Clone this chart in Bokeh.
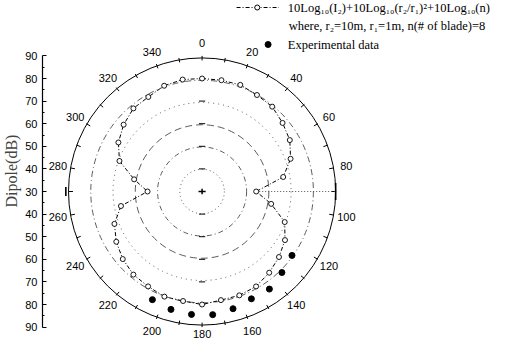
import numpy as np
from bokeh.plotting import figure
from bokeh.models import Range1d, LinearAxis, FixedTicker
from bokeh.core.properties import value
from bokeh.embed import file_html
from bokeh.resources import INLINE

# ---------------- data ----------------
angles_model = [0, 10, 20, 30, 40, 50, 60, 70, 80, 90, 100, 110, 120, 130, 140, 150, 160, 170,
                180, 190, 200, 210, 220, 230, 240, 250, 260, 270, 280, 290, 300, 310, 320, 330, 340, 350]
dipole_model = [80.0, 80.0, 80.2, 79.3, 79.0, 77.2, 75.5, 72.3, 67.0, 54.3, 61.5, 69.5, 73.0, 75.1,
                76.9, 78.5, 78.9, 78.8, 80.0, 79.2, 79.5, 78.5, 78.0, 76.5, 74.5, 71.9, 67.0, 54.5,
                61.0, 69.5, 73.4, 76.0, 78.0, 78.3, 79.8, 80.3]
angles_exp = [125, 135, 145, 155, 165, 175, 185, 195, 205]
dipole_exp = [79.3, 80.7, 82.7, 82.4, 83.7, 84.7, 84.6, 84.0, 82.8]
angle_ticks = list(range(0, 360, 20))
radial_ticks = [30, 40, 50, 60, 70, 80, 90]
legend_texts = ["10Log\u2081\u2080(I\u2082)+10Log\u2081\u2080(r\u2082/r\u2081)\u00b2+10Log\u2081\u2080(n)",
                "where, r\u2082=10m, r\u2081=1m, n(# of blade)=8",
                "Experimental data"]
y_label = "Dipole(dB)"

R0, RMAX = 30, 90

# ---------------- layout ----------------
W, H = 504, 341
LEFT = 35
S = 2.26            # px per dB
CX, CY = 162, 191   # polar centre inside frame (px)
FW = W - LEFT

def polar(vals, angs):
    r = np.asarray(vals, float) - R0
    t = np.radians(np.asarray(angs, float))
    return r * np.sin(t), r * np.cos(t)

def px(ix, iy):
    # image pixel -> data coords
    return (ix - 8 - LEFT - CX) / S, (CY - (iy - 8)) / S

p = figure(width=W, height=H,
           x_range=Range1d(-CX / S, (FW - CX) / S),
           y_range=Range1d(-(H - CY) / S, CY / S),
           output_backend="svg", toolbar_location=None,
           x_axis_type=None, y_axis_type=None,
           min_border_left=LEFT, min_border_right=0, min_border_top=0, min_border_bottom=0)
p.styles = {"margin-bottom": "-8px", "margin-right": "-8px"}
p.outline_line_color = None
p.background_fill_color = "white"

# radial axis on the left
span = RMAX - R0
ticks = [float(t) for t in range(-span, span + 1, 10)]
minor = [float(t) for t in np.arange(-span + 5, span, 10)]
ax = LinearAxis(ticker=FixedTicker(ticks=ticks, minor_ticks=minor), bounds=(-span, span))
ax.major_label_overrides = {t: str(int(R0 + abs(t))) for t in ticks}
ax.major_tick_in = 4
ax.major_tick_out = 0
ax.minor_tick_in = 2
ax.minor_tick_out = 0
ax.major_label_standoff = 5
ax.major_label_text_font = "Liberation Sans"
ax.major_label_text_font_size = "11px"
ax.major_label_text_color = "black"
ax.axis_line_color = "black"
ax.axis_line_width = 1.2
ax.axis_label = y_label
ax.axis_label_text_font = "Liberation Serif"
ax.axis_label_text_font_style = "normal"
ax.axis_label_text_font_size = "16px"
ax.axis_label_standoff = 2
p.add_layout(ax, "left")

# grid circles
styles = {90: None, 80: "6 3 1 3", 70: "1 4", 60: "7 4", 50: "5 3 1 3", 40: "1 3"}
for rv in radial_ticks[1:]:
    d = styles[rv]
    if d is None:
        p.circle(x=0, y=0, radius=rv - R0, fill_color=None, line_color="black", line_width=1)
    else:
        p.circle(x=0, y=0, radius=rv - R0, fill_color=None, line_color="#333333",
                 line_width=0.8, line_dash=d)

# tick marks on the outer circle every 10 degrees
tk = np.radians(np.arange(0, 360, 10))
p.segment(x0=span * np.sin(tk), y0=span * np.cos(tk),
          x1=(span - 2.0) * np.sin(tk), y1=(span - 2.0) * np.cos(tk),
          line_color="black", line_width=1)

# small cross ticks on the 0/180 radial line
for rv in radial_ticks[1:-1]:
    rr = rv - R0
    p.segment(x0=[-1.4, -1.4], y0=[rr, -rr], x1=[1.4, 1.4], y1=[rr, -rr],
              line_color="black", line_width=1)
p.segment(x0=[-1.6, 0], y0=[0, -1.2], x1=[1.6, 0], y1=[0, 1.2], line_color="black", line_width=1.5)

# radial dotted spoke at 90 deg and bars at 90/270
p.segment(x0=[dipole_model[9] - R0], y0=[0], x1=[span], y1=[0],
          line_color="#555555", line_dash="1 2", line_width=1)
p.segment(x0=[span, -span - 1.2], y0=[-3.8, -2], x1=[span, -span - 1.2], y1=[3.8, 2],
          line_color="black", line_width=1.6)

# angle labels (kept inside the canvas at the bottom)
at = np.radians(angle_ticks)
RL = 65.8
lab_x = RL * np.sin(at)
lab_y = np.maximum(RL * np.cos(at), -(H - CY) / S + 7.5 / S)
p.text(x=lab_x, y=lab_y, text=[str(a) for a in angle_ticks],
       text_align="center", text_baseline="middle", text_font=value("Liberation Sans"),
       text_font_size="11px", text_color="black")

# model curve
mx, my = polar(dipole_model + dipole_model[:1], angles_model + angles_model[:1])
p.line(mx, my, line_color="black", line_width=1, line_dash="4 2 1 2")
mx, my = polar(dipole_model, angles_model)
p.scatter(mx, my, marker="circle", size=5, fill_color="white", line_color="black", line_width=0.9)

# experimental
ex, ey = polar(dipole_exp, angles_exp)
p.scatter(ex, ey, marker="circle", size=6, fill_color="black", line_color="black")

# legend
lx0, ly = px(240, 15)
lx1, _ = px(283, 15)
lmx, _ = px(261, 15)
p.line([lx0, lx1], [ly, ly], line_color="black", line_width=1, line_dash="4 2 1 2")
p.scatter([lmx], [ly], marker="circle", size=5, fill_color="white", line_color="black")
ex3, ey3 = px(272, 52)
p.scatter([ex3], [ey3], marker="circle", size=6, fill_color="black", line_color="black")
tx = [px(292, 15)[0], px(293, 33)[0], px(292, 52)[0]]
ty = [px(292, 15)[1], px(293, 33)[1], px(292, 52)[1]]
p.text(x=tx, y=ty, text=legend_texts, text_align="left", text_baseline="middle",
       text_font=value("Liberation Serif"), text_font_size="12.5px", text_color="black")

open("out.html", "w").write(file_html(p, INLINE))
